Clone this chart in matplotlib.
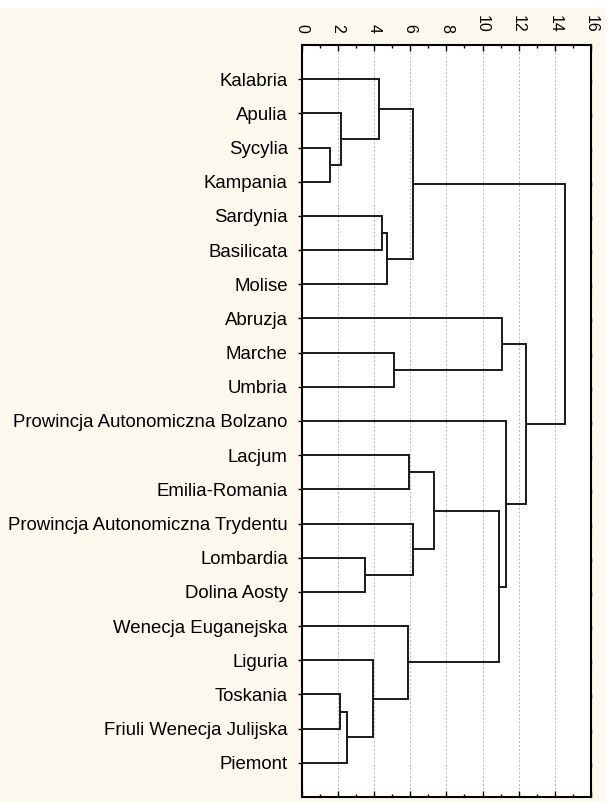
import matplotlib.pyplot as plt
from matplotlib.patches import Rectangle
from matplotlib.ticker import MultipleLocator

plt.rcParams['font.family'] = ['Liberation Sans', 'DejaVu Sans']

# regiony w kolejnosci lisci dendrogramu (od gory)
labels = ['Kalabria', 'Apulia', 'Sycylia', 'Kampania', 'Sardynia', 'Basilicata',
          'Molise', 'Abruzja', 'Marche', 'Umbria',
          'Prowincja Autonomiczna Bolzano', 'Lacjum', 'Emilia-Romania',
          'Prowincja Autonomiczna Trydentu', 'Lombardia', 'Dolina Aosty',
          'Wenecja Euganejska', 'Liguria', 'Toskania', 'Friuli Wenecja Julijska',
          'Piemont']

# laczenia: (wezel a, wezel b) i odleglosc wiazania, wezly 21+ to skupienia
merge_a = [2, 18, 1, 22, 14, 17, 0, 4, 28, 8, 16, 11, 13, 27, 32, 35, 7, 10, 37, 34]
merge_b = [3, 19, 21, 20, 15, 24, 23, 5, 6, 9, 26, 12, 25, 29, 33, 31, 30, 36, 38, 39]
heights = [1.58, 2.10, 2.19, 2.49, 3.48, 3.94, 4.29, 4.42, 4.73, 5.09,
           5.90, 5.93, 6.16, 6.17, 7.32, 10.91, 11.09, 11.32, 12.41, 14.56]

n = len(labels)
pos = {i: float(i) for i in range(n)}
hgt = {i: 0.0 for i in range(n)}

fig = plt.figure(figsize=(6.09, 8.02), dpi=100, facecolor='white')
fig.patches.append(Rectangle((0, 0), 605 / 609, 794 / 802, transform=fig.transFigure,
                             facecolor='#fdf8ee', edgecolor='none', zorder=-10))
ax = fig.add_axes([301.7 / 609, 5 / 802, 289.3 / 609, 752 / 802])

lc = '#1a1a1a'
for k, (a, b, h) in enumerate(zip(merge_a, merge_b, heights)):
    ya, yb = pos[a], pos[b]
    ax.plot([hgt[a], h, h, hgt[b]], [ya, ya, yb, yb], color=lc, lw=1.4,
            solid_joinstyle='miter', zorder=3)
    pos[n + k] = (ya + yb) / 2
    hgt[n + k] = h

ax.set_xlim(0, 16)
ax.set_ylim(21, -1)
ax.xaxis.set_major_locator(MultipleLocator(2))
ax.xaxis.set_minor_locator(MultipleLocator(1))
ax.tick_params(axis='x', which='both', top=True, bottom=True, labeltop=True,
               labelbottom=False, direction='in', width=1, color='black')
ax.tick_params(axis='x', which='major', length=4, pad=9)
ax.tick_params(axis='x', which='minor', length=2.5)
for t in ax.get_xticklabels():
    t.set_rotation(-90)
    t.set_fontsize(11.5)
    t.set_va('bottom')

ax.set_yticks(range(n))
ax.set_yticklabels(labels, fontsize=13.4)
ax.tick_params(axis='y', which='major', left=True, right=True, direction='out',
               length=3, width=1, pad=7)
for t in ax.yaxis.get_ticklines()[1::2]:
    t.set_marker(3)  # prawe kreski do srodka
ax.grid(axis='x', which='major', color='#b8b8b8', ls=(0, (2, 2)), lw=0.7)
ax.set_axisbelow(True)
for s in ax.spines.values():
    s.set_linewidth(1.5)
    s.set_color('black')

plt.savefig('out.png', dpi=100)
